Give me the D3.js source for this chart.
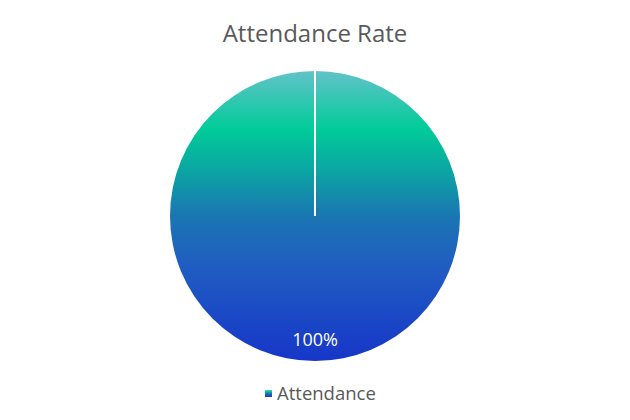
<!DOCTYPE html>
<html>
<head>
<meta charset="utf-8">
<script src="https://cdn.jsdelivr.net/npm/d3@7"></script>
<style>
  html, body { margin: 0; padding: 0; background: #ffffff; }
  svg { display: block; }
</style>
</head>
<body>
<svg id="chart" width="630" height="420"></svg>
<script>
const title = "Attendance Rate";
const categories = ["Attendance"];
const values = [100];
const gradientStops = [
  { offset: 0, color: "#62c2c8" },
  { offset: 0.2, color: "#00cc99" },
  { offset: 0.34, color: "#0aa6a2" },
  { offset: 0.5, color: "#1a76b2" },
  { offset: 0.68, color: "#205cc2" },
  { offset: 1, color: "#1636c8" }
];

const svg = d3.select("#chart");
const W = 630, H = 420;
const cx = 315, cy = 216, r = 145;

const defs = svg.append("defs");
const grad = defs.append("linearGradient")
  .attr("id", "pieGrad")
  .attr("gradientUnits", "userSpaceOnUse")
  .attr("x1", 0).attr("y1", -r)
  .attr("x2", 0).attr("y2", r);
grad.selectAll("stop").data(gradientStops).join("stop")
  .attr("offset", d => d.offset)
  .attr("stop-color", d => d.color);

const legGrad = defs.append("linearGradient")
  .attr("id", "legGrad")
  .attr("x1", 0).attr("y1", 0).attr("x2", 0).attr("y2", 1);
legGrad.selectAll("stop").data(gradientStops).join("stop")
  .attr("offset", d => d.offset)
  .attr("stop-color", d => d.color);

svg.append("text")
  .attr("x", W / 2).attr("y", 42)
  .attr("text-anchor", "middle")
  .attr("font-family", "'Open Sans', 'Noto Sans', sans-serif")
  .attr("font-size", 24)
  .attr("font-weight", 500)
  .attr("fill", "#595959")
  .text(title);

const data = categories.map((c, i) => ({ category: c, value: values[i] }));
const total = d3.sum(values);
const pie = d3.pie().value(d => d.value).sort(null);
const arcs = pie(data);
const arc = d3.arc().innerRadius(0).outerRadius(r);
const labelArc = d3.arc().innerRadius(r * 0.85).outerRadius(r * 0.85);

const g = svg.append("g").attr("transform", `translate(${cx},${cy})`);
g.selectAll("path.slice").data(arcs).join("path")
  .attr("class", "slice")
  .attr("d", arc)
  .attr("fill", "url(#pieGrad)");

// slice boundaries
g.selectAll("line.sep").data(arcs).join("line")
  .attr("class", "sep")
  .attr("x1", 0).attr("y1", 0)
  .attr("x2", d => r * Math.sin(d.startAngle))
  .attr("y2", d => -r * Math.cos(d.startAngle))
  .attr("stroke", "#ffffff")
  .attr("stroke-width", 2);

g.selectAll("text.lbl").data(arcs).join("text")
  .attr("class", "lbl")
  .attr("transform", d => `translate(${labelArc.centroid(d)})`)
  .attr("text-anchor", "middle")
  .attr("dy", "0.35em")
  .attr("font-family", "'Open Sans', 'Noto Sans', sans-serif")
  .attr("font-size", 18)
  .attr("fill", "#ffffff")
  .text(d => Math.round(d.data.value / total * 100) + "%");

// legend
const leg = svg.append("g").attr("transform", "translate(265,394)");
leg.append("rect")
  .attr("x", 0).attr("y", -4).attr("width", 7).attr("height", 7)
  .attr("fill", "url(#legGrad)");
leg.append("text")
  .attr("x", 12).attr("y", 0)
  .attr("dy", "0.35em")
  .attr("font-family", "'Open Sans', 'Noto Sans', sans-serif")
  .attr("font-size", 18.5)
  .attr("fill", "#595959")
  .text(categories[0]);
</script>
</body>
</html>
